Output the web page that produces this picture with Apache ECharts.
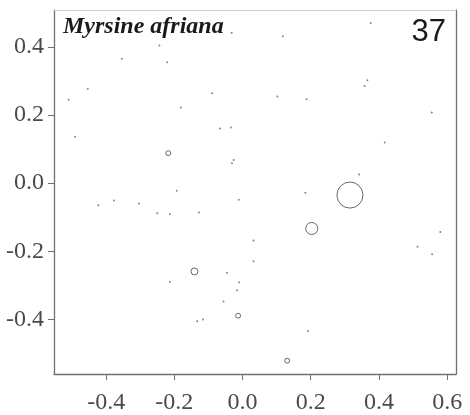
<!DOCTYPE html>
<html>
<head>
<meta charset="utf-8">
<script src="https://cdn.jsdelivr.net/npm/echarts@6/dist/echarts.min.js"></script>
<style>
  html, body { margin: 0; padding: 0; background: #fff; }
  #main { width: 470px; height: 415px; }
</style>
</head>
<body>
<div id="main"></div>
<script>
// ordination scores (axis 1, axis 2) and relative abundance of each plot
var xs = [-0.032, -0.244, -0.354, -0.221, -0.454, -0.510, -0.089, -0.181, -0.066, -0.034,
          -0.491, 0.376, 0.118, 0.366, 0.358, 0.102, 0.188, 0.555, -0.218, -0.026,
          -0.031, -0.193, -0.011, -0.377, -0.423, -0.304, -0.250, -0.213, -0.128, 0.032,
          0.032, 0.417, 0.342, 0.184, 0.315, 0.203, 0.580, 0.513, 0.556, -0.141,
          -0.046, -0.213, -0.010, -0.016, -0.056, -0.013, -0.116, -0.133, 0.192, 0.131];
var ys = [0.441, 0.404, 0.365, 0.355, 0.277, 0.245, 0.264, 0.222, 0.160, 0.163,
          0.136, 0.470, 0.431, 0.302, 0.285, 0.254, 0.246, 0.207, 0.088, 0.068,
          0.058, -0.022, -0.049, -0.051, -0.065, -0.060, -0.088, -0.091, -0.086, -0.168,
          -0.229, 0.119, 0.025, -0.028, -0.035, -0.133, -0.143, -0.187, -0.209, -0.259,
          -0.263, -0.289, -0.291, -0.314, -0.347, -0.389, -0.400, -0.405, -0.434, -0.521];
var abundance = [1, 1, 1, 1, 1, 1, 1, 1, 1, 1,
                 1, 1, 1, 1, 1, 1, 1, 1, 5, 1,
                 1, 1, 1, 1, 1, 1, 1, 1, 1, 1,
                 1, 1, 1, 1, 140, 30, 1, 1, 1, 10,
                 1, 1, 1, 1, 1, 5, 1, 1, 1, 5];
var xTicks = [-0.4, -0.2, 0.0, 0.2, 0.4, 0.6];
var yTicks = [-0.4, -0.2, 0.0, 0.2, 0.4];
var speciesName = 'Myrsine afriana';
var panelNo = '37';

var xMin = -0.553, xMax = 0.626, yMin = -0.56, yMax = 0.508;
var lineCol = '#707070';
var labelFont = { fontFamily: 'Liberation Serif', fontSize: 24, color: '#4a4a4a' };

var points = xs.map(function (x, i) { return [x, ys[i], abundance[i]]; });
var dots = points.filter(function (p) { return p[2] <= 1; });
var rings = points.filter(function (p) { return p[2] > 1; });

var myChart = echarts.init(document.getElementById('main'));
myChart.setOption({
  animation: false,
  backgroundColor: '#fff',
  title: [
    {
      text: speciesName, left: 58, top: 10,
      textStyle: { fontFamily: 'Liberation Serif', fontStyle: 'italic', fontWeight: 'bold', fontSize: 24, color: '#1a1a1a' }
    },
    {
      text: panelNo, right: 19, top: 12,
      textStyle: { fontFamily: 'Liberation Sans', fontWeight: 'normal', fontSize: 31, color: '#1a1a1a' }
    }
  ],
  grid: { left: 54, right: 14, top: 10, bottom: 39 },
  xAxis: [
    {
      type: 'value', min: xMin, max: xMax, position: 'bottom',
      splitLine: { show: false },
      axisLine: { show: true, onZero: false, lineStyle: { color: lineCol, width: 1.3 } },
      axisTick: { show: true, length: 6, customValues: xTicks, lineStyle: { color: lineCol } },
      axisLabel: Object.assign({ margin: 17, customValues: xTicks,
        formatter: function (v) { return v.toFixed(1); } }, labelFont)
    },
    {
      type: 'value', min: xMin, max: xMax, position: 'top',
      splitLine: { show: false },
      axisLine: { show: true, onZero: false, lineStyle: { color: '#cccccc', width: 1 } },
      axisTick: { show: false }, axisLabel: { show: false }
    }
  ],
  yAxis: [
    {
      type: 'value', min: yMin, max: yMax, position: 'left',
      splitLine: { show: false },
      axisLine: { show: true, onZero: false, lineStyle: { color: lineCol, width: 1.3 } },
      axisTick: { show: true, length: 6, customValues: yTicks, lineStyle: { color: lineCol } },
      axisLabel: Object.assign({ margin: 10, customValues: yTicks,
        formatter: function (v) { return v.toFixed(1); } }, labelFont)
    },
    {
      type: 'value', min: yMin, max: yMax, position: 'right',
      splitLine: { show: false },
      axisLine: { show: true, onZero: false, lineStyle: { color: lineCol, width: 1.3 } },
      axisTick: { show: false }, axisLabel: { show: false }
    }
  ],
  series: [
    {
      type: 'scatter',
      data: dots,
      symbol: 'circle',
      symbolSize: 2,
      itemStyle: { color: '#666' }
    },
    {
      type: 'scatter',
      data: rings,
      symbol: 'circle',
      symbolSize: function (d) { return 2.2 * Math.sqrt(d[2]); },
      itemStyle: { color: 'rgba(255,255,255,0)', borderColor: '#444', borderWidth: 1 }
    }
  ]
});
</script>
</body>
</html>
